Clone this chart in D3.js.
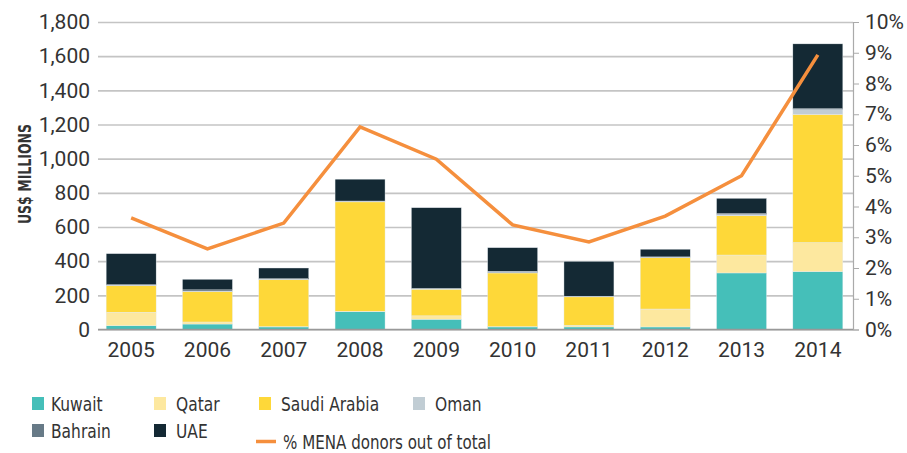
<!DOCTYPE html>
<html>
<head>
<meta charset="utf-8">
<script src="https://cdn.jsdelivr.net/npm/d3@7"></script>
<style>
  body { margin: 0; background: #fff; }
  svg text { font-family: "DejaVu Sans Condensed", "DejaVu Sans", sans-serif; fill: #333; }
  svg text.num { font-family: Roboto, "DejaVu Sans", sans-serif; }
</style>
</head>
<body>
<div id="chart"></div>
<script>
// data
const years = ["2005", "2006", "2007", "2008", "2009", "2010", "2011", "2012", "2013", "2014"];
const kuwait = [22, 32, 15, 104, 60, 15, 15, 15, 331, 339];
const qatar  = [79, 12, 2, 3, 20, 2, 10, 105, 105, 170];
const saudi  = [156, 178, 275, 640, 156, 314, 166, 300, 230, 750];
const oman   = [2, 2, 2, 3, 2, 2, 2, 2, 6, 28];
const bahrain = [3, 8, 3, 2, 2, 8, 2, 3, 6, 5];
const uae    = [182, 62, 63, 128, 473, 138, 204, 45, 90, 380];
const menaPct = [3.63, 2.62, 3.46, 6.59, 5.54, 3.4, 2.85, 3.69, 5.0, 8.93];
const leftTicks = [0, 200, 400, 600, 800, 1000, 1200, 1400, 1600, 1800];
const rightTicks = [0, 1, 2, 3, 4, 5, 6, 7, 8, 9, 10];

const seriesKeys = ["Kuwait", "Qatar", "Saudi Arabia", "Oman", "Bahrain", "UAE"];
const seriesVals = [kuwait, qatar, saudi, oman, bahrain, uae];
const colors = {
    "Kuwait": "#45bfb9",
    "Qatar": "#fde89f",
    "Saudi Arabia": "#fed839",
    "Oman": "#c1cdd4",
    "Bahrain": "#677a87",
    "UAE": "#142934"
};
const lineColor = "#f58f3d";

const width = 907, height = 453;
const plotL = 98, plotR = 853, plotT = 22, plotB = 329.5;

const svg = d3.select("#chart")
    .append("svg")
    .attr("width", width)
    .attr("height", height);

// build a table for the stack layout
const table = years.map((yr, i) => {
    const row = { year: yr };
    seriesKeys.forEach((k, j) => { row[k] = seriesVals[j][i]; });
    return row;
});

const x = d3.scaleBand()
    .domain(years)
    .range([93, 856])
    .paddingInner(0.345)
    .paddingOuter(0.1725);

const y = d3.scaleLinear().domain([0, 1800]).range([plotB, plotT]);
const y2 = d3.scaleLinear().domain([0, 10]).range([plotB, plotT]);

// gridlines + left labels
const yAxis = svg.append("g")
    .attr("transform", `translate(${plotL},0)`)
    .call(d3.axisLeft(y).tickValues(leftTicks).tickFormat(d3.format(",")).tickSize(-(plotR - plotL)).tickPadding(8));
yAxis.select(".domain").remove();
yAxis.selectAll(".tick line").attr("stroke", "#c4c4c4").attr("stroke-width", 1.6);
yAxis.selectAll(".tick text").attr("class", "num").style("font-size", "21px").attr("fill", "#333");

// right axis
const y2Axis = svg.append("g")
    .attr("transform", `translate(${plotR},0)`)
    .call(d3.axisRight(y2).tickValues(rightTicks).tickFormat(d => d + "%").tickSize(6).tickPadding(6));
y2Axis.select(".domain").attr("stroke", "#aaa").attr("stroke-width", 1.2);
y2Axis.selectAll(".tick line").attr("stroke", "#aaa");
y2Axis.selectAll(".tick text").attr("class", "num").style("font-size", "21px").attr("fill", "#333");

// stacked bars
const stacked = d3.stack().keys(seriesKeys)(table);
svg.append("g")
    .selectAll("g")
    .data(stacked)
    .enter()
    .append("g")
    .attr("fill", d => colors[d.key])
    .selectAll("rect")
    .data(d => d)
    .enter()
    .append("rect")
    .attr("x", d => x(d.data.year))
    .attr("width", x.bandwidth())
    .attr("y", d => y(d[1]))
    .attr("height", d => y(d[0]) - y(d[1]))
    .attr("stroke", "#e6ecef")
    .attr("stroke-width", 0.4);

// baseline
svg.append("line")
    .attr("x1", plotL).attr("x2", plotR)
    .attr("y1", plotB).attr("y2", plotB)
    .attr("stroke", "#999").attr("stroke-width", 1.6);

// year labels
svg.append("g")
    .selectAll("text")
    .data(years)
    .enter()
    .append("text")
    .attr("class", "num")
    .attr("x", d => x(d) + x.bandwidth() / 2)
    .attr("y", 357)
    .attr("text-anchor", "middle")
    .style("font-size", "21px")
    .text(d => d);

// % line
const line = d3.line()
    .x((d, i) => x(years[i]) + x.bandwidth() / 2)
    .y(d => y2(d));
svg.append("path")
    .datum(menaPct)
    .attr("d", line)
    .attr("fill", "none")
    .attr("stroke", lineColor)
    .attr("stroke-width", 3.5)
    .attr("stroke-linejoin", "miter");

// y title (narrowed to look like the condensed original font)
svg.append("text")
    .attr("transform", "translate(31,174) rotate(-90) scale(0.82,1)")
    .attr("text-anchor", "middle")
    .style("font-size", "17px")
    .style("font-weight", "bold")
    .text("US$ MILLIONS");

// legend
const legendItems = [
    { key: "Kuwait", x: 32, y: 397, tx: 51 },
    { key: "Qatar", x: 154, y: 397, tx: 176 },
    { key: "Saudi Arabia", x: 259, y: 397, tx: 281 },
    { key: "Oman", x: 413, y: 397, tx: 435 },
    { key: "Bahrain", x: 32, y: 424, tx: 51 },
    { key: "UAE", x: 154, y: 424, tx: 176 }
];
const lg = svg.append("g");
legendItems.forEach(it => {
    lg.append("rect")
        .attr("x", it.x).attr("y", it.y)
        .attr("width", 12).attr("height", 13)
        .attr("fill", colors[it.key]);
    lg.append("text")
        .attr("transform", `translate(${it.tx},${it.y + 13.5}) scale(0.86,1)`)
        .style("font-size", "20px")
        .text(it.key);
});
lg.append("line")
    .attr("x1", 256).attr("x2", 276)
    .attr("y1", 441.5).attr("y2", 441.5)
    .attr("stroke", lineColor).attr("stroke-width", 3.5);
lg.append("text")
    .attr("transform", "translate(283,449) scale(0.84,1)")
    .style("font-size", "20px")
    .text("% MENA donors out of total");
</script>
</body>
</html>
